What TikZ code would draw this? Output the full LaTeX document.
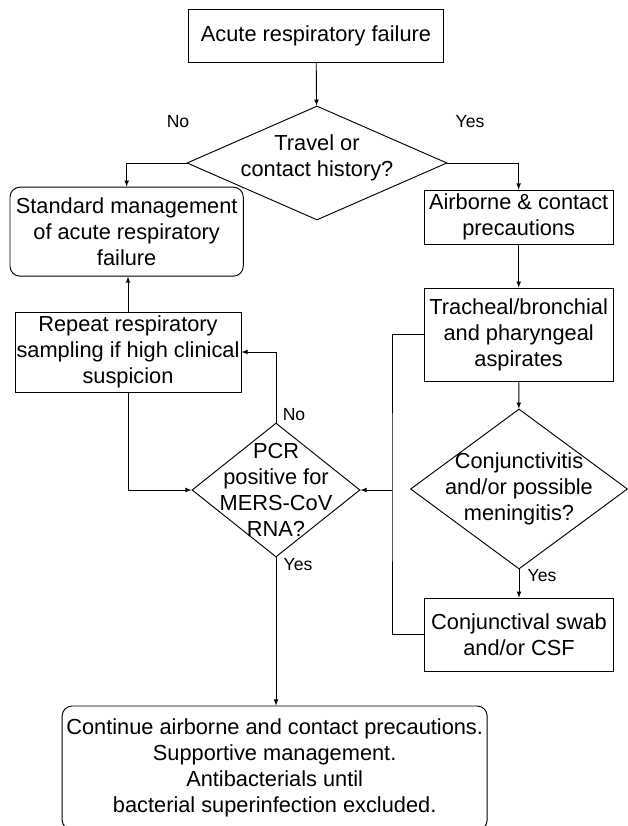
\documentclass[tikz,border=0pt]{standalone}
\usepackage{fontspec}
\setmainfont{Liberation Sans}
\usetikzlibrary{shapes.geometric}

\begin{document}
\begin{tikzpicture}[>=latex, line width=0.8pt,
  box/.style={draw, rectangle, align=center, inner sep=0pt, font=\fontsize{18.6}{22}\selectfont},
  rbox/.style={box, rounded corners=0.3cm},
  decision/.style={draw, diamond, inner sep=0pt},
  dtext/.style={align=center, font=\fontsize{18.6}{22}\selectfont},
  lbl/.style={font=\fontsize{15}{18}\selectfont}]
  \useasboundingbox (0,0) rectangle (18.81,-24.78);

  \node[box, minimum width=7.65cm, minimum height=1.59cm] (1) at (9.48,-1.08) {Acute respiratory failure}; % start
  \node[decision, minimum width=7.8cm, minimum height=3.42cm,
        label={[dtext,yshift=0.15cm]center:Travel or\\contact history?}] (2) at (9.51,-4.89) {}; % first question
  \node[rbox, minimum width=7cm, minimum height=2.67cm] (3) at (3.8,-6.95) {Standard management\\of acute respiratory\\failure};
  \node[box, minimum width=5.67cm, minimum height=1.62cm] (4) at (15.56,-6.51) {Airborne \& contact\\precautions};
  \node[box, minimum width=5.67cm, minimum height=2.79cm] (5) at (15.56,-10.04) {Tracheal/bronchial\\and pharyngeal\\aspirates};
  \node[decision, minimum width=6.51cm, minimum height=4.8cm,
        label={[dtext]center:Conjunctivitis\\and/or possible\\meningitis?}] (6) at (15.57,-14.67) {}; % eye or CSF?
  \node[box, minimum width=5.67cm, minimum height=2.19cm] (7) at (15.57,-19.04) {Conjunctival swab\\and/or CSF};
  \node[decision, minimum width=5.04cm, minimum height=4.02cm,
        label={[dtext]center:PCR\\positive for\\MERS-CoV\\RNA?}] (8) at (8.28,-14.7) {}; % PCR result
  \node[box, minimum width=6.78cm, minimum height=2.4cm] (9) at (3.84,-10.56) {Repeat respiratory\\sampling if high clinical\\suspicion};
  \node[rbox, minimum width=12.75cm, minimum height=3.72cm] (10) at (8.24,-23.04) {Continue airborne and contact precautions.\\Supportive management.\\Antibacterials until\\bacterial superinfection excluded.};

  \node[lbl] (no1) at (5.34,-3.66) {No};
  \node[lbl] (yes1) at (14.1,-3.66) {Yes};
  \node[lbl] (no2) at (8.82,-12.45) {No};
  \node[lbl] (yes2) at (8.94,-16.95) {Yes};
  \node[lbl] (yes3) at (16.26,-17.28) {Yes};

  \coordinate (j) at (11.76,-14.7); % joins the samples

  \draw[->] (1) -- (2);
  \draw[->] (2.west) -| (3.north);
  \draw[->] (2.east) -| (4.north);
  \draw[->] (4) -- (5);
  \draw[->] (5) -- (6);
  \draw[->] (6) -- (7);
  \draw (5.west) -| (j) |- (7.west);
  \draw[->] (j) -- (8.east);
  \draw[->] (8.north) |- (9.east);
  \draw[->] (9.north) -- (9.north |- 3.south);
  \draw[->] (9.south) |- (8.west);
  \draw[->] (8.south) -- (8.south |- 10.north);

\end{tikzpicture}
\end{document}
